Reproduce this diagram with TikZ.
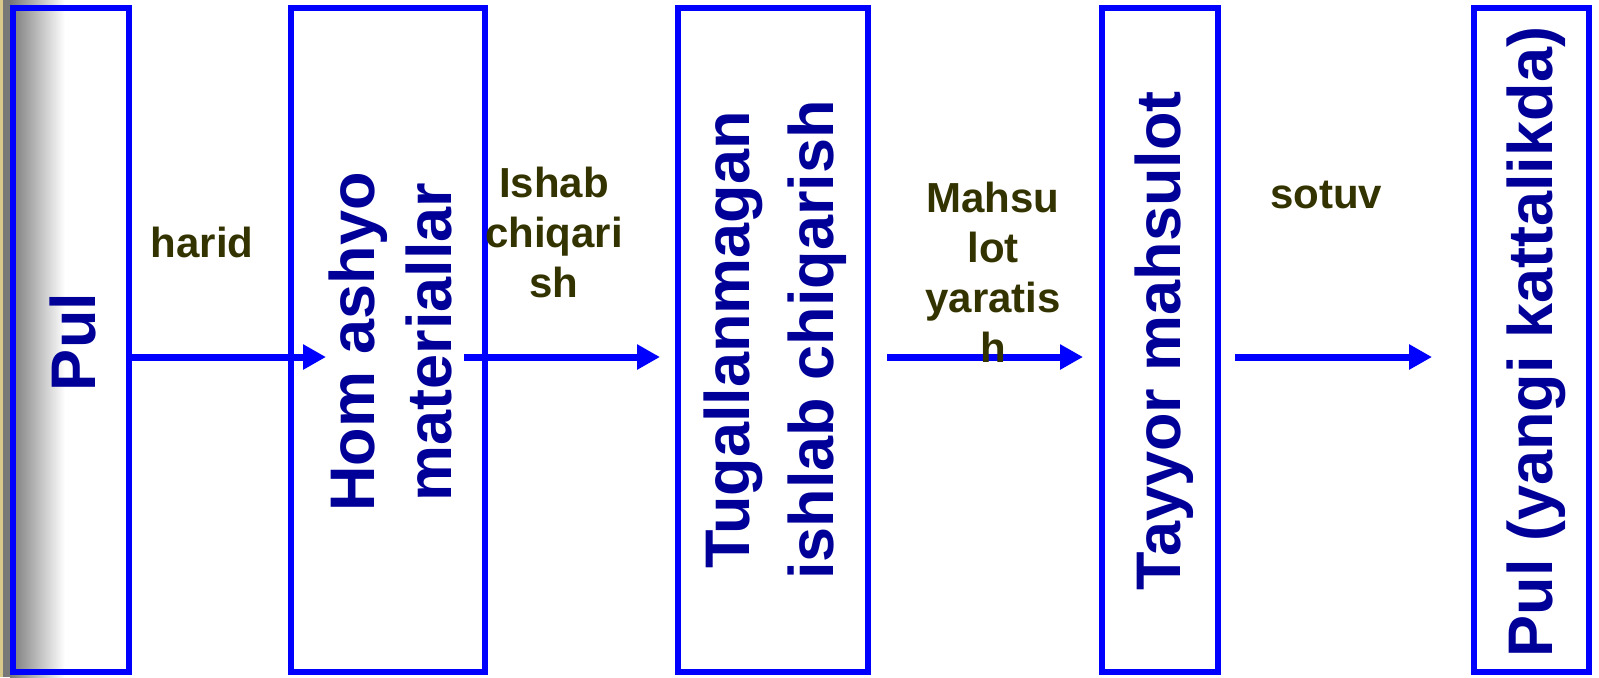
\documentclass[tikz,border=0pt]{standalone}
\usepackage{fontspec}
\setmainfont{Liberation Sans}
\usetikzlibrary{arrows.meta}
\definecolor{boxblue}{RGB}{0,0,255}
\definecolor{txtnavy}{RGB}{0,0,153}
\definecolor{lblolive}{RGB}{51,51,0}
\definecolor{sidetan}{RGB}{216,200,138}
\definecolor{sidegray}{RGB}{120,120,120}
\begin{document}
\begin{tikzpicture}[x=0.5pt,y=-0.5pt,
  stage/.style={draw=boxblue, line width=3pt, inner sep=0pt, minimum height=332pt},
  stagetext/.style={rotate=90, text=txtnavy, font=\fontsize{31.5}{38}\selectfont\bfseries, align=center, inner sep=0pt},
  flowlabel/.style={text=lblolive, font=\fontsize{21}{25}\selectfont\bfseries, align=center, inner sep=0pt},
  flow/.style={draw=boxblue, line width=3.5pt, -{Triangle[length=11.5pt,width=12pt]}}]
\useasboundingbox (0,0) rectangle (1599,677);
\fill[white] (0,0) rectangle (1599,677);
\fill[sidetan] (0,0) rectangle (3,677);
\fill[sidegray] (3,0) rectangle (10,677);
\shade[left color=sidegray, right color=white] (10,0) rectangle (65,677);
% stages
\node[stage, minimum width=58pt] (b1) at (71,340) {};
\node[stage, minimum width=97pt] (b2) at (388,340) {};
\node[stage, minimum width=95pt] (b3) at (773,340) {};
\node[stage, minimum width=58pt] (b4) at (1159.5,340) {};
\node[stage, minimum width=57.5pt] (b5) at (1531.5,340) {};
% arrows
\coordinate (a1e) at (326,357);
\coordinate (a2s) at (464,357);
\coordinate (a2e) at (660,357);
\coordinate (a3s) at (887,357);
\coordinate (a3e) at (1083,357);
\coordinate (a4s) at (1235,357);
\coordinate (a4e) at (1432,357);
\draw[flow] (b1.east |- a1e) -- (a1e);
\draw[flow] (a2s) -- (a2e);
\draw[flow] (a3s) -- (a3e);
\draw[flow] (a4s) -- (a4e);
% stage texts
\node[stagetext] (t1) at (73,342) {Pul};
\node[stagetext, font=\fontsize{31.5}{38.5}\selectfont\bfseries] (t2) at (390,342) {Hom ashyo\\materiallar};
\node[stagetext, font=\fontsize{31.5}{42}\selectfont\bfseries] (t3) at (775,340) {Tugallanmagan\\ishlab chiqarish};
\node[stagetext] (t4) at (1164,341) {Tayyor mahsulot};
\node[stagetext] (t5) at (1536,342) {Pul (yangi kattalikda)};
% flow labels
\node[flowlabel] (l1) at (202,242) {harid};
\node[flowlabel] (l2) at (554,232) {Ishab\\chiqari\\sh};
\node[flowlabel] (l3) at (993,272) {Mahsu\\lot\\yaratis\\h};
\node[flowlabel] (l4) at (1326,195) {sotuv};
\end{tikzpicture}
\end{document}
